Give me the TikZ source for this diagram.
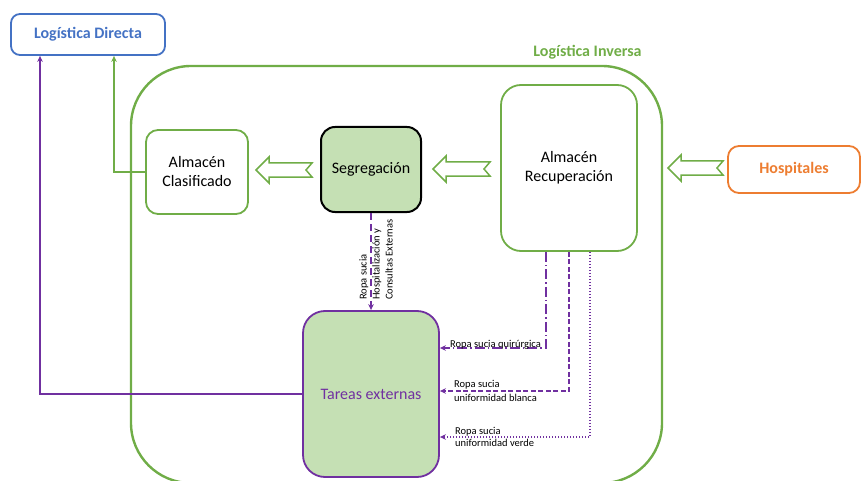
\documentclass[tikz,border=0pt]{standalone}
\usepackage{fontspec}
\setmainfont{Carlito}
\usetikzlibrary{arrows.meta,calc}
\definecolor{cgreen}{HTML}{70AD47}
\definecolor{cblue}{HTML}{4472C4}
\definecolor{corange}{HTML}{ED7D31}
\definecolor{cpurple}{HTML}{7030A0}
\definecolor{cfill}{HTML}{C5E0B4}
\begin{document}
\begin{tikzpicture}[x=1pt,y=1pt,
  box/.style={draw=cgreen, line width=1.8pt, rounded corners=12pt, align=center,
    font=\fontsize{16}{19}\selectfont, inner sep=0pt},
  titlebox/.style={line width=1.8pt, rounded corners=9pt, inner sep=0pt,
    font=\fontsize{16}{19}\selectfont\bfseries},
  conn/.style={line width=1.6pt, -{Stealth[length=6pt,width=5.5pt]}},
  lbl/.style={font=\fontsize{10.5}{13}\selectfont, inner sep=0pt},
  pics/hollowarrow/.style={code={
    \draw[cgreen, line width=1.5pt, fill=white, line join=miter]
      (0,0) -- (13,13) -- (13,7) -- (#1,7) -- ({#1-6},0) -- (#1,-7)
      -- (13,-7) -- (13,-13) -- cycle;}}]
\useasboundingbox (0,0) rectangle (861,480);

% reverse-logistics container (its lower edge runs just past the page)
\begin{scope}
\clip (0,0) rectangle (861,480);
\node[draw=cgreen, line width=2.4pt, rounded corners=60pt,
      minimum width=531pt, minimum height=417pt] (inv) at (396.5,205.5) {};
\end{scope}
\node[font=\fontsize{16}{19}\selectfont\bfseries, text=cgreen, anchor=base, inner sep=0pt]
  (invlbl) at (587.5,423.5) {Logística Inversa};

% outer boxes
\node[titlebox, draw=cblue, text=cblue, minimum width=154pt, minimum height=41pt]
  (ldir) at (88,445.5) {Logística Directa};
\node[titlebox, draw=corange, text=corange, rounded corners=11pt,
      minimum width=132pt, minimum height=47pt] (hosp) at (794,310.5) {Hospitales};

% inner boxes
\node[box, minimum width=102pt, minimum height=84pt] (clas) at (197,308) {Almacén\\Clasificado};
\node[box, draw=black, fill=cfill, line width=2pt, rounded corners=14pt,
      minimum width=100pt, minimum height=85pt] (seg) at (371,310.5) {Segregación};
\node[box, rounded corners=20pt, minimum width=136pt, minimum height=166pt]
  (rec) at (569,312) {Almacén\\Recuperación};
\node[box, draw=cpurple, fill=cfill, text=cpurple, rounded corners=22pt,
      minimum width=136pt, minimum height=166pt] (tar) at (371,86) {Tareas externas};

% hollow block arrows
\pic at (256,310) {hollowarrow=56};
\pic at (433,311) {hollowarrow=57};
\pic at (668,312) {hollowarrow=55};

% connectors to direct logistics
\draw[conn, cpurple] (tar.west) -| ([xshift=-48pt]ldir.south);
\draw[conn, cgreen] (clas.west) -| ([xshift=26pt]ldir.south);

% segregation to external tasks
\draw[conn, cpurple, dash pattern=on 7pt off 4pt] (seg.south) -- (tar.north);
\node[lbl, rotate=90, anchor=west, align=left] (seglbl) at (376,180)
  {Ropa sucia\\Hospitalización y\\Consultas Externas};

% recovery warehouse to external tasks
\draw[conn, cpurple, dash pattern=on 10pt off 3pt on 1.5pt off 3pt]
  ([xshift=-23pt]rec.south) |- ([yshift=46pt]tar.east);
\draw[conn, cpurple, dash pattern=on 5pt off 2.5pt]
  (rec.south) |- ([yshift=3pt]tar.east);
\draw[conn, cpurple, dash pattern=on 1.5pt off 1.5pt]
  ([xshift=21pt]rec.south) |- ([yshift=-43pt]tar.east);

\node[lbl, anchor=base west] (q1) at (450,132.7) {Ropa sucia quirúrgica};
\node[lbl, anchor=base west] (b1) at (454,92.7) {Ropa sucia};
\node[lbl, anchor=base west] (b2) at (454,79) {uniformidad blanca};
\node[lbl, anchor=base west] (v1) at (455,45.7) {Ropa sucia};
\node[lbl, anchor=base west] (v2) at (455,33.3) {uniformidad verde};
\end{tikzpicture}
\end{document}
